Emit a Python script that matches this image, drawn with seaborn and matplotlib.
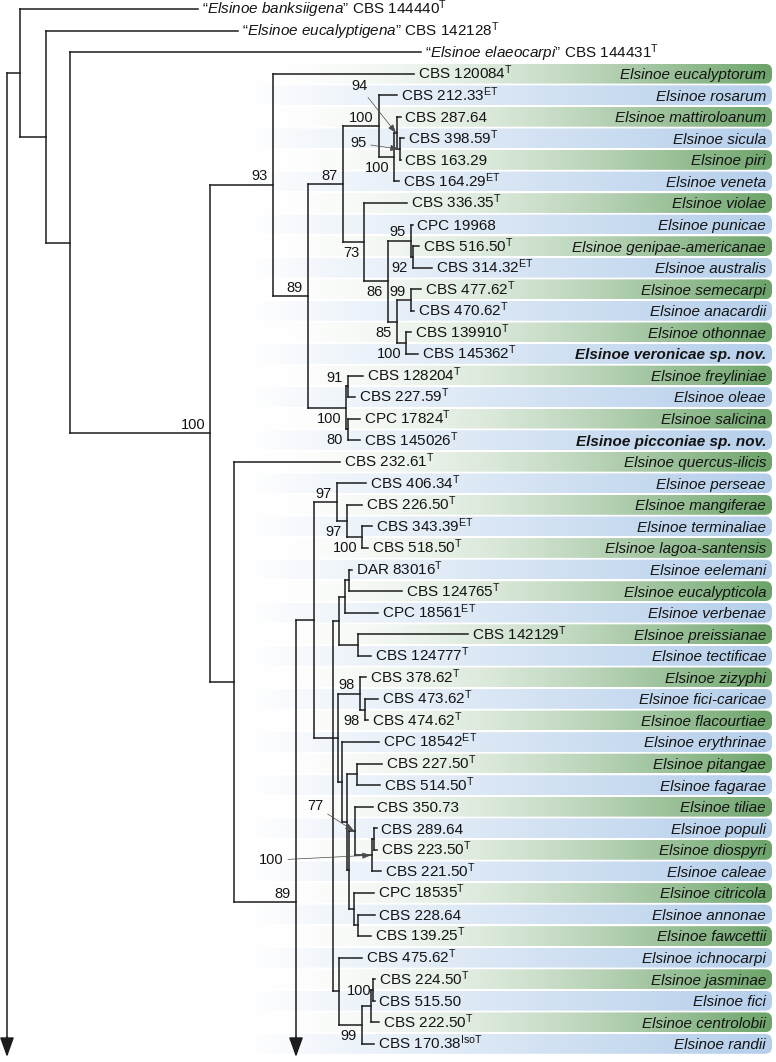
import numpy as np
import pandas as pd
import matplotlib
matplotlib.use("Agg")
import matplotlib.pyplot as plt
from matplotlib.patches import FancyBboxPatch
import seaborn as sns

# ---------------- data ----------------
strains = ["CBS 144440", "CBS 142128", "CBS 144431", "CBS 120084", "CBS 212.33",
           "CBS 287.64", "CBS 398.59", "CBS 163.29", "CBS 164.29", "CBS 336.35",
           "CPC 19968", "CBS 516.50", "CBS 314.32", "CBS 477.62", "CBS 470.62",
           "CBS 139910", "CBS 145362", "CBS 128204", "CBS 227.59", "CPC 17824",
           "CBS 145026", "CBS 232.61", "CBS 406.34", "CBS 226.50", "CBS 343.39",
           "CBS 518.50", "DAR 83016", "CBS 124765", "CPC 18561", "CBS 142129",
           "CBS 124777", "CBS 378.62", "CBS 473.62", "CBS 474.62", "CPC 18542",
           "CBS 227.50", "CBS 514.50", "CBS 350.73", "CBS 289.64", "CBS 223.50",
           "CBS 221.50", "CPC 18535", "CBS 228.64", "CBS 139.25", "CBS 475.62",
           "CBS 224.50", "CBS 515.50", "CBS 222.50", "CBS 170.38"]
type_marks = ["T", "T", "T", "T", "ET", "", "T", "", "ET", "T",
              "", "T", "ET", "T", "T", "T", "T", "T", "T", "T",
              "T", "T", "T", "T", "ET", "T", "T", "T", "ET", "T",
              "T", "T", "T", "T", "ET", "T", "T", "", "", "T",
              "T", "T", "", "T", "T", "T", "", "T", "IsoT"]
species = ["Elsinoe banksiigena", "Elsinoe eucalyptigena", "Elsinoe elaeocarpi",
           "Elsinoe eucalyptorum", "Elsinoe rosarum", "Elsinoe mattiroloanum",
           "Elsinoe sicula", "Elsinoe piri", "Elsinoe veneta", "Elsinoe violae",
           "Elsinoe punicae", "Elsinoe genipae-americanae", "Elsinoe australis",
           "Elsinoe semecarpi", "Elsinoe anacardii", "Elsinoe othonnae",
           "Elsinoe veronicae sp. nov.", "Elsinoe freyliniae", "Elsinoe oleae",
           "Elsinoe salicina", "Elsinoe picconiae sp. nov.", "Elsinoe quercus-ilicis",
           "Elsinoe perseae", "Elsinoe mangiferae", "Elsinoe terminaliae",
           "Elsinoe lagoa-santensis", "Elsinoe eelemani", "Elsinoe eucalypticola",
           "Elsinoe verbenae", "Elsinoe preissianae", "Elsinoe tectificae",
           "Elsinoe zizyphi", "Elsinoe fici-caricae", "Elsinoe flacourtiae",
           "Elsinoe erythrinae", "Elsinoe pitangae", "Elsinoe fagarae",
           "Elsinoe tiliae", "Elsinoe populi", "Elsinoe diospyri", "Elsinoe caleae",
           "Elsinoe citricola", "Elsinoe annonae", "Elsinoe fawcettii",
           "Elsinoe ichnocarpi", "Elsinoe jasminae", "Elsinoe fici",
           "Elsinoe centrolobii", "Elsinoe randii"]
novel_species = [16, 20]
n_unplaced = 3
# branch-tip depth of each terminal (tree distance, drawing units)
tip_depth = [198, 238, 421, 414, 397, 401, 404, 401, 399, 407,
             413, 419, 432, 421, 414, 411, 418, 363, 355, 360,
             360, 340, 366, 362, 372, 368, 352, 402, 378, 468,
             371, 366, 378, 368, 379, 382, 380, 373, 377, 377,
             381, 374, 375, 371, 362, 375, 375, 379, 374]

# internal nodes: name, depth, children (tip index or node name, "off" = continues off page)
clade_names = ["root", "N1", "N2", "N3", "P", "A", "B", "C", "D", "E", "E2", "E3",
               "G", "H", "I", "K", "J", "L", "M", "F", "N", "O",
               "Q", "R", "V", "S", "T", "U", "W", "X3", "X2", "X1", "X4",
               "K1", "Y1", "Y2", "E1", "E2b", "PF", "E3b", "Z3", "Z2", "Z1",
               "CG", "AF", "IG", "IG2", "IG3", "JF"]
clade_depth = [7, 20, 46, 70, 210, 273, 308, 343, 379, 394, 397, 400,
               364, 388, 411, 413, 397, 411, 406, 346, 348, 348,
               234, 296, 314, 337, 347, 362, 333, 339, 345, 349, 358,
               338, 360, 365, 342, 347, 357, 349, 355, 372, 374,
               354, 358, 339, 362, 371, 373]
clade_children = [["N1", "off"], [0, "N2"], [1, "N3"], [2, "P"], ["A", "Q"],
                  [3, "B"], ["C", "F"], ["D", "G"], [4, "E"], ["E2", 8], [5, "E3"], [6, 7],
                  [9, "H"], ["I", "J"], [10, "K"], [11, 12], ["L", "M"], [13, 14], [15, 16],
                  ["N", "O"], [17, 18], [19, 20],
                  [21, "R"], ["V", "off"], ["S", "W"], [22, "T"], [23, "U"], [24, 25],
                  ["X3", "K1", "IG"], ["X2", "X4"], ["X1", 28], [26, 27], [29, 30],
                  ["Y1", "E1"], [31, "Y2"], [32, 33], [34, "E2b"], ["PF", "E3b"], [35, 36],
                  ["Z3", "CG"], [37, "Z2"], ["Z1", 40], [38, 39],
                  [41, "AF"], [42, 43], [44, "IG2"], ["IG3", 48], ["JF", 47], [45, 46]]
offpage_row = 54.5

# bootstrap support: node, value, placement (a = above, b = below, l = left, p = pointer)
support_nodes = ["P", "A", "B", "C", "D", "E", "E2", "E3", "G", "H", "I", "K", "J",
                 "L", "M", "F", "N", "O", "R", "S", "T", "U", "Y1", "Y2", "Z3", "Z2",
                 "JF", "IG2"]
support_values = ["100", "93", "89", "87", "100", "100", "94", "95", "73", "86", "95",
                  "92", "85", "99", "100", "100", "91", "80", "89", "97", "97", "100",
                  "98", "98", "77", "100", "100", "99"]
support_place = ["a", "a", "a", "a", "a", "b", "p", "p", "b", "b", "a",
                 "b", "b", "a", "b", "b", "a", "b", "a", "a", "b", "b",
                 "a", "b", "p", "p", "l", "b"]
pointer_offsets = {"E2": (-26.6, 33.8), "E3": (-29.5, 4.3),
                   "Z3": (-28.0, 18.0), "Z2": (-72.0, -3.6)}

# ---------------- style / layout ----------------
sns.set_theme(style="white")
plt.rcParams["font.family"] = ["Liberation Sans", "DejaVu Sans"]
plt.rcParams["mathtext.fontset"] = "custom"
plt.rcParams["mathtext.rm"] = "Liberation Sans"
plt.rcParams["mathtext.it"] = "Liberation Sans:italic"
plt.rcParams["mathtext.bf"] = "Liberation Sans:bold"

W_PX, H_PX = 776, 1062
ROW0, STEP = 9.0, 21.56
FS = 11.0
FS_SUP = 10.5
LINE = "#1c1c1c"
TXT = "#141414"
ARROW_TIP = 1057
BAND_X0, BAND_X1, BAND_H = 250, 772, 19.8
SPECIES_X = 766
LABEL_GAP = 4.0
BASE_SHIFT = 5.4


def row_y(i):
    return ROW0 + STEP * i


clades = {n: (d, ch) for n, d, ch in zip(clade_names, clade_depth, clade_children)}
node_xy = {}


def place(node):
    if isinstance(node, int):
        return tip_depth[node], row_y(node)
    if node in node_xy:
        return node_xy[node]
    d, ch = clades[node]
    ys = [row_y(offpage_row) if c == "off" else place(c)[1] for c in ch]
    if len(ch) > 2 and len(ch) % 2 == 1:
        y = ys[len(ch) // 2]
    else:
        y = (ys[0] + ys[-1]) / 2
    node_xy[node] = (d, y)
    return d, y


place("root")

rows = []
sid = 0
for n in clade_names:
    d, ch = clades[n]
    ys = []
    for c in ch:
        if c == "off":
            ys.append(ARROW_TIP - 8)
            continue
        cx, cy = place(c)
        ys.append(cy)
        rows += [(sid, d, cy), (sid, cx, cy)]
        sid += 1
    rows += [(sid, d, min(ys)), (sid, d, max(ys))]
    sid += 1
seg_df = pd.DataFrame(rows, columns=["seg", "x", "y"])

fig = plt.figure(figsize=(W_PX / 100, H_PX / 100), dpi=100)
ax = fig.add_axes([0, 0, 1, 1])

# gradient bands
tt = np.linspace(0, 1, 400)


def ramp(end, power):
    f = tt ** power
    c = 1 - f[:, None] * (1 - np.array(end)[None, :])
    return c[None, :, :]


green = ramp((0.42, 0.64, 0.41), 1.8)
blue = ramp((0.71, 0.81, 0.92), 0.9)
for i in range(n_unplaced, len(strains)):
    y = row_y(i)
    img = green if (i - n_unplaced) % 2 == 0 else blue
    patch = FancyBboxPatch((BAND_X0, y - BAND_H / 2), BAND_X1 - BAND_X0, BAND_H,
                           boxstyle="round,pad=0,rounding_size=7",
                           transform=ax.transData, facecolor="none", edgecolor="none")
    ax.add_patch(patch)
    im = ax.imshow(img, extent=(BAND_X0, BAND_X1, y + BAND_H / 2, y - BAND_H / 2),
                   aspect="auto", interpolation="bilinear", zorder=0)
    im.set_clip_path(patch)

# tree branches
sns.lineplot(data=seg_df, x="x", y="y", units="seg", estimator=None, sort=False,
             color=LINE, linewidth=1.1, legend=False, ax=ax,
             solid_capstyle="projecting", zorder=3)

# arrows for continuing lineages
for n in clade_names:
    d, ch = clades[n]
    if "off" in ch:
        ax.annotate("", xy=(d, ARROW_TIP), xytext=(d, ARROW_TIP - 20),
                    arrowprops=dict(arrowstyle="-|>,head_length=1.0,head_width=0.36",
                                    color=LINE, lw=1.1, shrinkA=0, shrinkB=0),
                    zorder=4)

# tip labels
for i, (s, t, sp) in enumerate(zip(strains, type_marks, species)):
    y = row_y(i) + BASE_SHIFT
    x = tip_depth[i] + LABEL_GAP
    sup = r"$^{\mathrm{%s}}$" % t if t else ""
    if i < n_unplaced:
        name = sp.replace(" ", r"\ ")
        label = "\u201c$\\mathit{%s}$\u201d %s%s" % (name, s, sup)
        ax.text(x, y, label, fontsize=FS, color=TXT, ha="left", va="baseline", zorder=5)
        continue
    ax.text(x, y, s + sup, fontsize=FS, color=TXT, ha="left", va="baseline", zorder=5)
    bold = i in novel_species
    ax.text(SPECIES_X, y, sp, fontsize=FS, color=TXT, ha="right", va="baseline",
            fontstyle="italic", fontweight="bold" if bold else "normal", zorder=5)

# support values
for n, v, p in zip(support_nodes, support_values, support_place):
    x, y = node_xy[n]
    if p == "a":
        ax.text(x - 5, y - 4.5, v, fontsize=FS_SUP, color=TXT, ha="right", va="baseline", zorder=5)
    elif p == "b":
        ax.text(x - 5, y + 15, v, fontsize=FS_SUP, color=TXT, ha="right", va="baseline", zorder=5)
    elif p == "l":
        ax.text(x - 2, y + BASE_SHIFT, v, fontsize=FS_SUP, color=TXT, ha="right", va="baseline", zorder=5)
    else:
        ax.annotate(v, xy=(x - 1, y), xytext=pointer_offsets[n], textcoords="offset points",
                    fontsize=FS_SUP, color=TXT, ha="center", va="center", zorder=5,
                    arrowprops=dict(arrowstyle="-|>,head_length=0.5,head_width=0.18",
                                    color="#4a4a4a", lw=0.5, shrinkA=1, shrinkB=0))

ax.set_xlim(0, W_PX)
ax.set_ylim(H_PX, 0)
ax.set_axis_off()
fig.savefig("out.png", dpi=100)
